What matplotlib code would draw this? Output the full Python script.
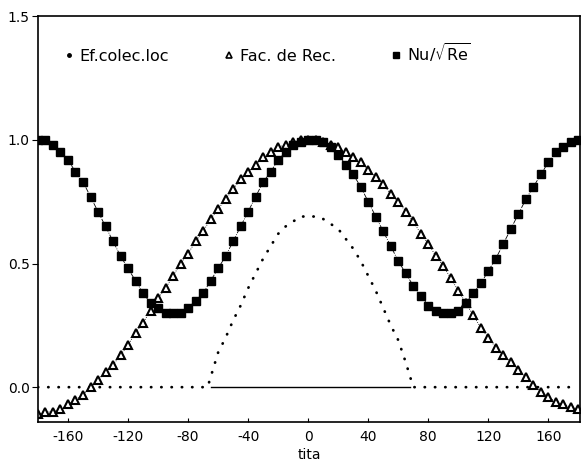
import numpy as np
import matplotlib.pyplot as plt
from matplotlib.lines import Line2D

# angle grid of the markers (every 5 degrees)
tita = np.arange(-180, 181, 5)

# Nu/sqrt(Re), filled squares
nu = [1.00, 1.00, 0.98, 0.95, 0.92, 0.87, 0.83, 0.77, 0.71, 0.65, 0.59, 0.53,
      0.48, 0.43, 0.38, 0.34, 0.32, 0.30, 0.30, 0.30, 0.32, 0.35, 0.38, 0.43,
      0.48, 0.53, 0.59, 0.65, 0.71, 0.77, 0.83, 0.87, 0.92, 0.95, 0.98, 0.99,
      1.00,
      1.00, 0.99, 0.97, 0.94, 0.90, 0.86, 0.81, 0.75, 0.69, 0.63, 0.57, 0.51,
      0.46, 0.41, 0.37, 0.33, 0.31, 0.30, 0.30, 0.31, 0.34, 0.38, 0.42, 0.47,
      0.52, 0.58, 0.64, 0.70, 0.76, 0.81, 0.86, 0.91, 0.95, 0.97, 0.99, 1.00]

# Fac. de Rec., open triangles
rec = [-0.11, -0.10, -0.10, -0.09, -0.07, -0.05, -0.03, 0.00, 0.03, 0.06, 0.09, 0.13,
       0.17, 0.22, 0.26, 0.31, 0.36, 0.40, 0.45, 0.50, 0.54, 0.59, 0.63, 0.68,
       0.72, 0.76, 0.80, 0.84, 0.87, 0.90, 0.93, 0.95, 0.97, 0.98, 0.99, 1.00,
       1.00,
       1.00, 0.99, 0.98, 0.97, 0.95, 0.93, 0.91, 0.88, 0.85, 0.82, 0.78, 0.75,
       0.71, 0.67, 0.62, 0.58, 0.53, 0.49, 0.44, 0.39, 0.34, 0.29, 0.24, 0.20,
       0.16, 0.13, 0.10, 0.07, 0.04, 0.01, -0.02, -0.04, -0.06, -0.07, -0.08, -0.09]

# Ef.colec.loc, dotted curve
tita_ef = [-180, -67, -60, -55, -50, -45, -40, -35, -30, -25, -20, -15, -10, -5, 0,
           5, 10, 15, 20, 25, 30, 35, 40, 45, 50, 55, 60, 65, 70, 180]
ef = [0.00, 0.00, 0.14, 0.20, 0.27, 0.33, 0.40, 0.46, 0.52, 0.57, 0.62, 0.65, 0.67, 0.69, 0.69,
      0.69, 0.68, 0.66, 0.64, 0.60, 0.56, 0.51, 0.45, 0.39, 0.32, 0.25, 0.19, 0.10, 0.00, 0.00]

xticks = [-160, -120, -80, -40, 0, 40, 80, 120, 160]
yticks = [0.0, 0.5, 1.0, 1.5]

plt.rcParams['font.family'] = 'DejaVu Sans'
plt.rcParams['axes.unicode_minus'] = False
plt.rcParams['mathtext.fontset'] = 'dejavusans'

fig = plt.figure(figsize=(5.84, 4.63), dpi=100, facecolor='white')
ax = fig.add_axes([0.065, 0.089, 0.928, 0.876])

# thin baseline under the collection curve
ax.plot([-65, 68], [0, 0], c='black', lw=1.0)

ax.plot(tita_ef, ef, c='black', lw=2.0, ls=(0, (0.1, 3.6)), dash_capstyle='round')

ax.plot(tita, rec, c='black', lw=0.6, ls=':', marker='^', ms=6,
        mfc='white', mec='black', mew=1.5)
ax.plot(tita, nu, c='black', lw=0.6, ls='-.', marker='s', ms=5.5,
        mfc='black', mec='black')

ax.set_xlim(-180, 181)
ax.set_ylim(-0.14, 1.5)
ax.set_xticks(xticks)
ax.set_yticks(yticks)
ax.set_yticklabels(['0.0', '0.5', '1.0', '1.5'])
ax.tick_params(axis='x', direction='in', length=3, labelsize=10, pad=6)
ax.tick_params(axis='y', direction='out', length=4, labelsize=10, pad=2)
ax.set_xlabel('tita', fontsize=10, labelpad=3)

for s in ax.spines.values():
    s.set_linewidth(1.2)

handles = [
    Line2D([], [], ls='none', marker='.', ms=5, c='black'),
    Line2D([], [], ls='none', marker='^', ms=5, mfc='white', mec='black', mew=1.2),
    Line2D([], [], ls='none', marker='s', ms=5, c='black'),
]
labels = ['Ef.colec.loc', 'Fac. de Rec.', r'Nu/$\sqrt{\mathrm{Re}}$']
ax.legend(handles, labels, ncol=3, loc='upper left', bbox_to_anchor=(0.021, 0.975),
          frameon=False, fontsize=11.5, handlelength=0.6, handletextpad=0.4,
          columnspacing=3.45)

fig.savefig('out.png', dpi=100, facecolor='white')
